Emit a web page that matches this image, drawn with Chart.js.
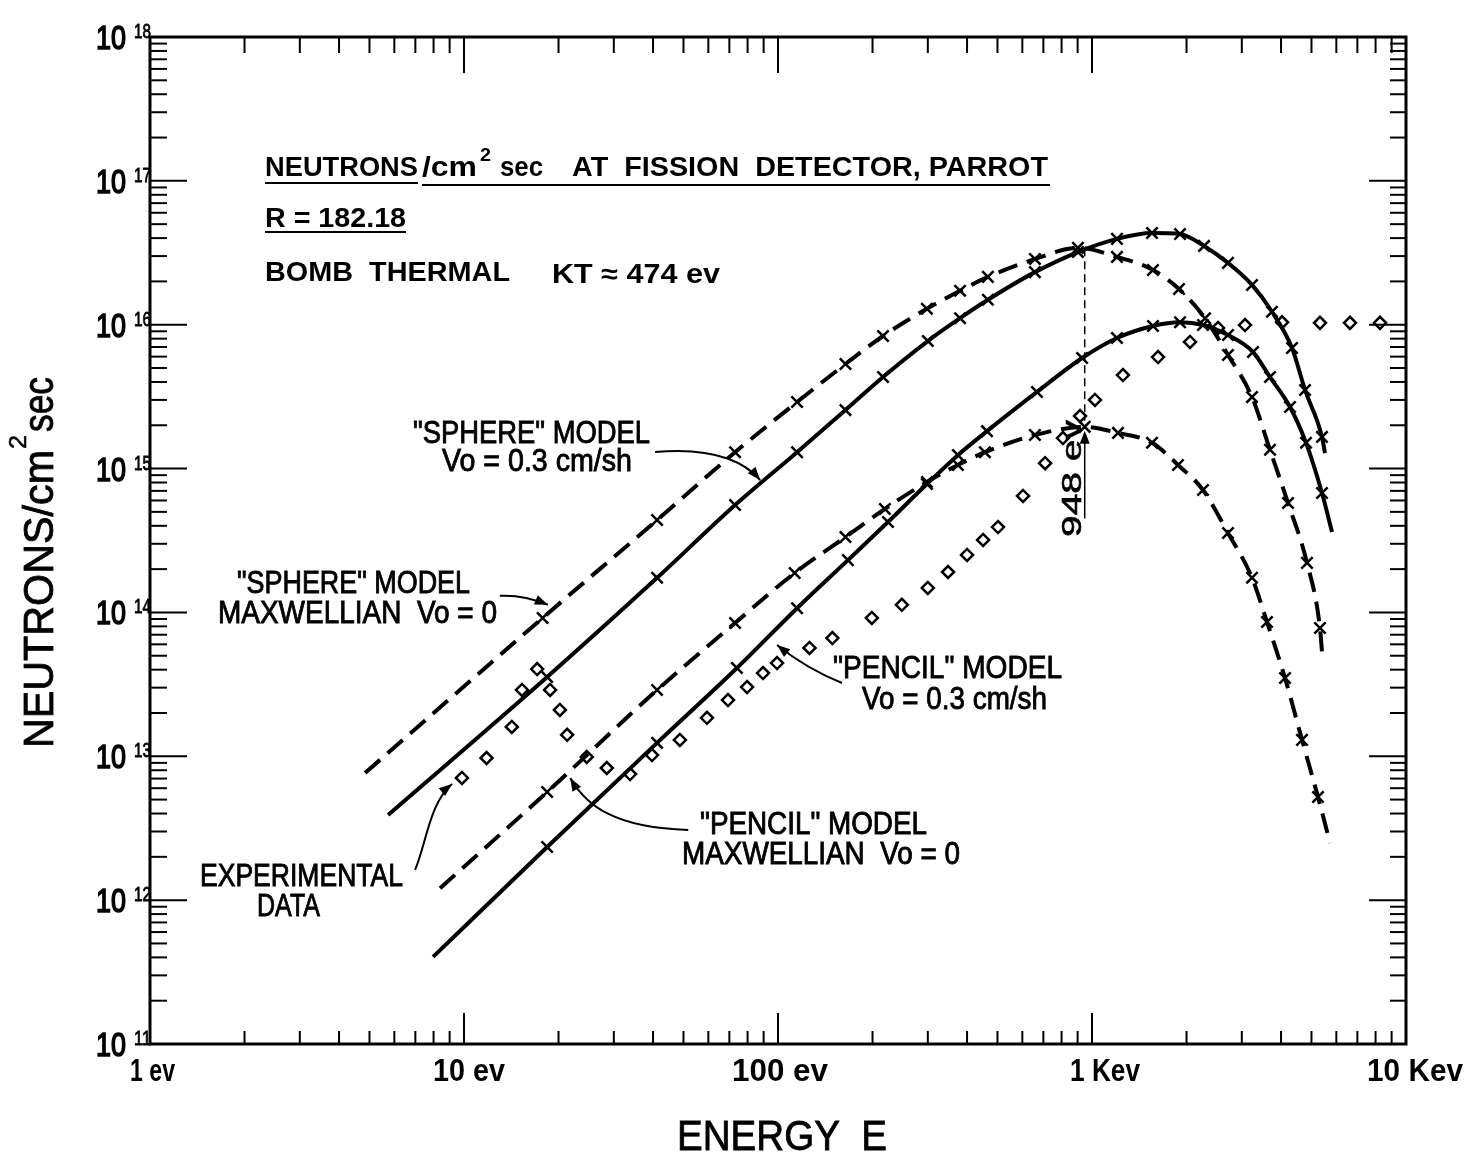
<!DOCTYPE html>
<html>
<head>
<meta charset="utf-8">
<script src="https://cdn.jsdelivr.net/npm/chart.js@4.4.1/dist/chart.umd.min.js"></script>
<style>
  html, body { margin: 0; padding: 0; background: #fff; }
  canvas { display: block; }
</style>
</head>
<body>
<canvas id="chart" width="1468" height="1159"></canvas>
<script>
// Datos (energía en eV, flujo en neutrones/cm² sec)
const energySphereMax = [4.84, 17.8, 41.2, 73.0, 115, 164, 216, 298, 380, 466, 658, 902, 1201, 1564, 1893, 2291, 2711, 3233, 3689, 4210, 4839, 5322, 5401];
const fluxSphereMax = [7.65e12, 9.15e13, 4.39e14, 1.30e15, 2.90e15, 5.33e15, 8.35e15, 1.29e16, 1.72e16, 2.15e16, 2.86e16, 3.42e16, 2.96e16, 2.40e16, 1.77e16, 1.11e16, 6.16e15, 3.14e15, 1.35e15, 5.76e14, 2.21e14, 7.79e13, 5.31e13];

const energySphereV0 = [5.73, 18.4, 41.2, 73.0, 115, 164, 216, 300, 380, 466, 658, 902, 1201, 1553, 1907, 2274, 2711, 3233, 3743, 4335, 4769, 5401, 5521];
const fluxSphereV0 = [3.91e12, 3.56e13, 1.74e14, 5.58e14, 1.30e15, 2.55e15, 4.33e15, 7.70e15, 1.11e16, 1.49e16, 2.32e16, 3.20e16, 3.95e16, 4.34e16, 4.27e16, 3.53e16, 2.69e16, 1.89e16, 1.23e16, 6.89e15, 3.52e15, 1.66e15, 1.28e15];

const energyPencilMax = [8.39, 18.4, 41.2, 73.0, 113, 164, 219, 298, 374, 456, 658, 948, 1210, 1553, 1879, 2257, 2711, 3233, 3608, 4118, 4665, 5245, 5728];
const fluxPencilMax = [1.21e12, 5.65e12, 2.89e13, 8.45e13, 1.88e14, 3.34e14, 5.24e14, 8.07e14, 1.06e15, 1.30e15, 1.71e15, 1.95e15, 1.77e15, 1.51e15, 1.06e15, 7.10e14, 3.57e14, 1.74e14, 8.58e13, 3.50e13, 1.30e13, 5.21e12, 2.50e12];

const energyPencilV0 = [7.97, 18.4, 41.2, 74.0, 115, 167, 224, 298, 374, 463, 668, 930, 1201, 1564, 1907, 2257, 2711, 3257, 3689, 4272, 4804, 5401, 5813];
const fluxPencilV0 = [4.03e11, 2.34e12, 1.24e13, 4.11e13, 1.07e14, 2.31e14, 4.25e14, 7.81e14, 1.24e15, 1.82e15, 3.41e15, 5.87e15, 8.09e15, 9.80e15, 1.04e16, 9.95e15, 8.48e15, 6.46e15, 4.33e15, 2.68e15, 1.51e15, 6.77e14, 3.62e14];

const energyExp = [9.85, 11.8, 14.2, 15.3, 17.1, 18.8, 20.2, 21.3, 24.6, 28.5, 33.8, 39.7, 48.7, 59.4, 69.3, 79.7, 89.6, 99.3, 126, 149, 199, 248, 300, 348, 400, 450, 502, 603, 709, 808, 916, 1022, 1255, 1623, 2052, 2520, 3071, 4029, 5322, 6631, 8264];
const fluxExp = [7.07e12, 9.73e12, 1.60e13, 2.89e13, 4.04e13, 2.89e13, 2.10e13, 1.41e13, 9.89e12, 8.29e12, 7.53e12, 1.02e13, 1.30e13, 1.85e13, 2.46e13, 3.03e13, 3.79e13, 4.45e13, 5.66e13, 6.64e13, 9.15e13, 1.13e14, 1.48e14, 1.91e14, 2.51e14, 3.19e14, 3.92e14, 6.45e14, 1.09e15, 1.63e15, 2.32e15, 3.00e15, 4.47e15, 5.96e15, 7.59e15, 9.49e15, 9.95e15, 1.04e16, 1.03e16, 1.03e16, 1.03e16];

// Ejes
const xTickValues = [1, 10, 100, 1000, 10000];
const xTickLabels = ['1 ev', '10 ev', '100 ev', '1 Kev', '10 Kev'];
const yTickExponents = [11, 12, 13, 14, 15, 16, 17, 18];
const markerEnergy = 948;

const FONT = '"Liberation Sans", Arial, sans-serif';

function pares(xs, ys) {
  return xs.map((x, i) => ({ x: x, y: ys[i] }));
}

// sin marcador en los extremos de cada curva
function radioCurva(r) {
  return ctx => (ctx.dataIndex === 0 || ctx.dataIndex === ctx.dataset.data.length - 1) ? 0 : r;
}

function curva(xs, ys, dash) {
  return {
    data: pares(xs, ys),
    showLine: true,
    borderColor: '#000',
    borderWidth: 4,
    borderDash: dash,
    cubicInterpolationMode: 'monotone',
    pointStyle: 'crossRot',
    pointRadius: radioCurva(8),
    pointBorderColor: '#000',
    pointBorderWidth: 2.5,
    pointBackgroundColor: '#000'
  };
}

// Texto ajustado a un ancho dado (con trazo opcional para engrosar)
function texto(ctx, s, x, y, font, w, grosor) {
  ctx.save();
  ctx.font = font;
  const m = ctx.measureText(s).width;
  ctx.translate(x, y);
  if (w) ctx.scale(w / m, 1);
  ctx.fillText(s, 0, 0);
  if (grosor) {
    ctx.lineWidth = grosor;
    ctx.strokeText(s, 0, 0);
  }
  ctx.restore();
}

function linea(ctx, x1, y1, x2, y2) {
  ctx.beginPath();
  ctx.moveTo(x1, y1);
  ctx.lineTo(x2, y2);
  ctx.stroke();
}

function punta(ctx, fromX, fromY, tipX, tipY) {
  const a = Math.atan2(tipY - fromY, tipX - fromX);
  const L = 13, H = 5;
  ctx.beginPath();
  ctx.moveTo(tipX, tipY);
  ctx.lineTo(tipX - L * Math.cos(a) + H * Math.sin(a), tipY - L * Math.sin(a) - H * Math.cos(a));
  ctx.lineTo(tipX - L * Math.cos(a) - H * Math.sin(a), tipY - L * Math.sin(a) + H * Math.cos(a));
  ctx.closePath();
  ctx.fill();
}

// flecha curva: la punta en coordenadas de datos, el resto relativo a la punta
function flecha(ctx, x, y, tipE, tipN, s, c1, c2) {
  const tx = x.getPixelForValue(tipE), ty = y.getPixelForValue(tipN);
  ctx.beginPath();
  ctx.moveTo(tx + s[0], ty + s[1]);
  ctx.bezierCurveTo(tx + c1[0], ty + c1[1], tx + c2[0], ty + c2[1], tx, ty);
  ctx.stroke();
  punta(ctx, tx + c2[0], ty + c2[1], tx, ty);
}

const marco = {
  id: 'marco',
  afterDraw(chart) {
    const { ctx, chartArea: a, scales: { x, y } } = chart;
    ctx.save();
    ctx.strokeStyle = '#000';
    ctx.fillStyle = '#000';
    ctx.lineWidth = 3;
    ctx.strokeRect(a.left, a.top, a.right - a.left, a.bottom - a.top);

    // marcas del eje X (hacia dentro)
    ctx.lineWidth = 2;
    for (let d = 0; d < 4; d++) {
      for (let m = 1; m < 10; m++) {
        const v = Math.pow(10, d) * m;
        if (v <= 1) continue;
        const px = x.getPixelForValue(v);
        const mayor = m === 1;
        linea(ctx, px, a.bottom, px, a.bottom - (mayor ? 31 : 13));
        linea(ctx, px, a.top, px, a.top + (mayor ? 36 : 16));
      }
    }
    // marcas del eje Y
    for (let d = 11; d < 18; d++) {
      for (let m = 1; m < 10; m++) {
        if (d === 11 && m === 1) continue;
        const py = y.getPixelForValue(Math.pow(10, d) * m);
        const mayor = m === 1;
        linea(ctx, a.left, py, a.left + (mayor ? 37 : 17), py);
        linea(ctx, a.right, py, a.right - (mayor ? 37 : 16), py);
      }
    }

    // etiquetas eje Y
    ctx.textBaseline = 'alphabetic';
    yTickExponents.forEach(e => {
      const py = y.getPixelForValue(Math.pow(10, e));
      texto(ctx, '10', 96, py + 12, '34px ' + FONT, 30, 1.6);
      texto(ctx, String(e), 134, py + 1, '20px ' + FONT, 17, 0.8);
    });

    // etiquetas eje X
    const dx = [-20, -31, -46, -22, -39];
    const anchos = [45, 72, 96, 70, 96];
    xTickValues.forEach((v, i) => {
      const px = x.getPixelForValue(v);
      texto(ctx, xTickLabels[i], px + dx[i], 1081, 'bold 31px ' + FONT, anchos[i]);
    });

    // títulos de ejes
    texto(ctx, 'ENERGY  E', 677, 1150, '42px ' + FONT, 210, 0.8);
    ctx.save();
    ctx.translate(53, 748);
    ctx.rotate(-Math.PI / 2);
    texto(ctx, 'NEUTRONS/cm', 0, 0, '42px ' + FONT, 298, 0.8);
    texto(ctx, '2', 299, -27, '24px ' + FONT, 14, 0.6);
    texto(ctx, 'sec', 316, 0, '42px ' + FONT, 55, 0.8);
    ctx.restore();

    // encabezado
    const negrita = 'bold 27px ' + FONT;
    texto(ctx, 'NEUTRONS', 265, 176, negrita, 153);
    texto(ctx, '/cm', 422, 176, negrita, 55);
    texto(ctx, '2', 480, 161, 'bold 18px ' + FONT, 11);
    texto(ctx, 'sec', 500, 176, negrita, 43);
    texto(ctx, 'AT  FISSION  DETECTOR, PARROT', 572, 176, negrita, 476);
    ctx.lineWidth = 2;
    linea(ctx, 265, 183, 418, 183);
    linea(ctx, 422, 185, 1050, 185);
    texto(ctx, 'R = 182.18', 265, 227, negrita, 141);
    linea(ctx, 265, 232, 406, 232);
    texto(ctx, 'BOMB  THERMAL', 265, 281, negrita, 245);
    texto(ctx, 'KT ≈ 474 ev', 552, 283, negrita, 168);

    // rótulos de modelos
    const normal = '32px ' + FONT;
    const g = 0.9;
    texto(ctx, '"SPHERE" MODEL', 413, 443, normal, 237, g);
    texto(ctx, 'Vo = 0.3 cm/sh', 442, 471, normal, 190, g);
    texto(ctx, '"SPHERE" MODEL', 237, 593, normal, 233, g);
    texto(ctx, 'MAXWELLIAN  Vo = 0', 218, 623, normal, 279, g);
    texto(ctx, '"PENCIL" MODEL', 833, 678, normal, 229, g);
    texto(ctx, 'Vo = 0.3 cm/sh', 862, 709, normal, 185, g);
    texto(ctx, '"PENCIL" MODEL', 700, 834, normal, 227, g);
    texto(ctx, 'MAXWELLIAN  Vo = 0', 682, 864, normal, 278, g);
    texto(ctx, 'EXPERIMENTAL', 200, 886, normal, 203, g);
    texto(ctx, 'DATA', 257, 916, normal, 63, g);

    // flechas de los rótulos
    ctx.lineWidth = 2;
    flecha(ctx, x, y, 87.7, 8.33e14, [-105, -28], [-40, -34], [-12, -14]);
    flecha(ctx, x, y, 18.5, 1.13e14, [-48, -9], [-28, -10], [-12, -5]);
    flecha(ctx, x, y, 99.3, 5.94e13, [65, 38], [30, 24], [10, 8]);
    flecha(ctx, x, y, 21.8, 7.07e12, [118, 52], [45, 50], [16, 28]);
    flecha(ctx, x, y, 9.16, 6.42e12, [-37, 86], [-26, 60], [-22, 18]);

    // línea de 948 eV
    const mx = x.getPixelForValue(markerEnergy);
    const yTop = y.getPixelForValue(3.4e16);
    const yPico = y.getPixelForValue(1.95e15);
    ctx.lineWidth = 1.5;
    ctx.setLineDash([8, 5]);
    linea(ctx, mx, yTop, mx, yPico - 6);
    ctx.setLineDash([]);
    const yBase = y.getPixelForValue(4.5e14);
    linea(ctx, mx, yBase, mx, yPico + 8);
    punta(ctx, mx, yBase, mx, yPico + 4);
    ctx.save();
    ctx.translate(mx - 4, 537);
    ctx.rotate(-Math.PI / 2);
    texto(ctx, '948 ev', 0, 0, '27px ' + FONT, 117, 0.6);
    ctx.restore();

    ctx.restore();
  }
};

new Chart(document.getElementById('chart'), {
  type: 'scatter',
  data: {
    datasets: [
      curva(energySphereMax, fluxSphereMax, [20, 10]),
      curva(energySphereV0, fluxSphereV0, []),
      curva(energyPencilMax, fluxPencilMax, [20, 10]),
      curva(energyPencilV0, fluxPencilV0, []),
      {
        data: pares(energyExp, fluxExp),
        showLine: false,
        pointStyle: 'rectRot',
        pointRadius: 6,
        pointBorderColor: '#000',
        pointBorderWidth: 2.5,
        pointBackgroundColor: '#fff'
      }
    ]
  },
  options: {
    responsive: false,
    devicePixelRatio: 1,
    animation: false,
    layout: { padding: { left: 150, top: 37, right: 62, bottom: 115 } },
    plugins: { legend: { display: false }, tooltip: { enabled: false } },
    scales: {
      x: { type: 'logarithmic', min: 1, max: 10000, display: false },
      y: { type: 'logarithmic', min: 1e11, max: 1e18, display: false }
    }
  },
  plugins: [marco]
});
</script>
</body>
</html>
